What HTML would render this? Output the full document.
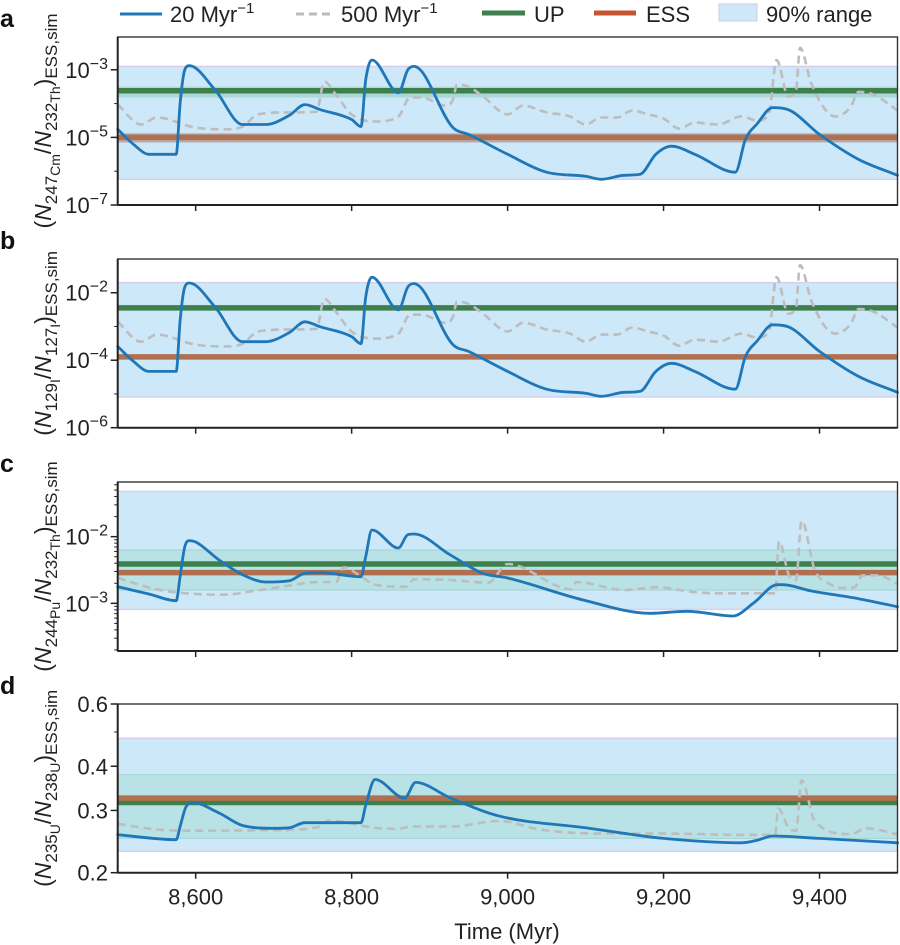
<!DOCTYPE html>
<html><head><meta charset="utf-8">
<style>
html,body{margin:0;padding:0;background:#fff;}
svg{display:block;font-family:"Liberation Sans",Arial,sans-serif;}
</style></head>
<body>
<svg id="chart" width="900" height="945" viewBox="0 0 900 945" xmlns="http://www.w3.org/2000/svg">
<g id="legend" font-size="22" fill="#222">
  <g><line x1="120" y1="14" x2="162" y2="14" stroke="#1f77b8" stroke-width="3"/><text x="170" y="22">20 Myr<tspan dy="-9" font-size="15">−1</tspan></text></g>
  <g><line x1="296" y1="14" x2="332" y2="14" stroke="#bbb" stroke-width="3" stroke-dasharray="8,5"/><text x="341" y="22">500 Myr<tspan dy="-9" font-size="15">−1</tspan></text></g>
  <g><line x1="482" y1="13" x2="525" y2="13" stroke="#3e7f4b" stroke-width="5"/><text x="534" y="22">UP</text></g>
  <g><line x1="594" y1="13" x2="636" y2="13" stroke="#c4552f" stroke-width="5"/><text x="646" y="22">ESS</text></g>
  <g><rect x="719" y="4" width="38" height="17" fill="#cde8f8" stroke="#d6d0ee" stroke-width="1.2"/><text x="766" y="22">90% range</text></g>
</g>
<g id="plots"></g>
</svg>
<script>
const NS="http://www.w3.org/2000/svg";
// ---- shared time axis ----
const xTicks=[8600,8800,9000,9200,9400];
const xTickLabels=["8,600","8,800","9,000","9,200","9,400"];
// ---- panel a: log10(N247Cm/N232Th) ----
const aBlueT=[8500,8520,8540,8575,8580,8586,8592,8625,8660,8690,8720,8740,8760,8800,8812,8818,8826,8860,8872,8880,8930,8950,9000,9050,9100,9120,9150,9170,9190,9210,9240,9292,9305,9320,9340,9360,9400,9450,9500];
const aBlue=[-4.76,-5.2,-5.5,-5.5,-4.0,-3.0,-2.88,-3.6,-4.62,-4.62,-4.35,-4.03,-4.18,-4.47,-4.68,-3.3,-2.71,-3.68,-3.0,-2.9,-4.71,-4.91,-5.5,-6.03,-6.15,-6.24,-6.12,-6.09,-5.5,-5.26,-5.5,-6.03,-5.06,-4.6,-4.12,-4.18,-4.91,-5.65,-6.12];
const aGrayT=[8500,8530,8550,8600,8640,8660,8680,8720,8755,8765,8780,8800,8830,8860,8875,8890,8920,8930,8935,8950,8970,9000,9020,9050,9080,9100,9120,9140,9160,9180,9200,9220,9240,9270,9300,9320,9335,9345,9360,9370,9375,9390,9420,9440,9450,9470,9500];
const aGray=[-4.03,-4.62,-4.41,-4.71,-4.76,-4.68,-4.32,-4.26,-4.24,-3.35,-3.74,-4.32,-4.53,-4.38,-3.82,-3.82,-4.06,-3.88,-3.44,-3.5,-3.82,-4.32,-4.06,-4.26,-4.38,-4.62,-4.41,-4.41,-4.2,-4.32,-4.44,-4.74,-4.56,-4.62,-4.38,-4.5,-4.32,-2.71,-3.79,-3.59,-2.35,-3.44,-4.38,-4.1,-3.65,-3.74,-4.2];
const aRange=[-2.9,-6.24], aUP=-3.62, aESS=-5.0, aUPband=[-3.5,-3.82], aESSband=[-4.88,-5.15];
// ---- panel b: log10(N129I/N127I) ----
const bBlue=[-3.59,-4.03,-4.33,-4.33,-2.83,-1.83,-1.71,-2.43,-3.45,-3.45,-3.18,-2.86,-3.01,-3.3,-3.51,-2.13,-1.54,-2.51,-1.83,-1.73,-3.54,-3.74,-4.33,-4.86,-4.98,-5.07,-4.95,-4.92,-4.33,-4.09,-4.33,-4.86,-3.89,-3.43,-2.95,-3.01,-3.74,-4.48,-4.95];
const bGray=[-2.86,-3.45,-3.24,-3.54,-3.59,-3.51,-3.15,-3.09,-3.07,-2.18,-2.57,-3.15,-3.36,-3.21,-2.65,-2.65,-2.89,-2.71,-2.27,-2.33,-2.65,-3.15,-2.89,-3.09,-3.21,-3.45,-3.24,-3.24,-3.03,-3.15,-3.27,-3.57,-3.39,-3.45,-3.21,-3.33,-3.15,-1.54,-2.62,-2.42,-1.18,-2.27,-3.21,-2.93,-2.48,-2.57,-3.03];
const bRange=[-1.7,-5.09], bUP=-2.45, bESS=-3.9;
// ---- panel c: log10(N244Pu/N232Th) ----
const cBlueT=[8500,8540,8575,8580,8586,8592,8600,8630,8660,8690,8720,8740,8760,8812,8818,8826,8860,8872,8880,8926,8968,9000,9097,9183,9230,9289,9315,9346,9353,9388,9450,9500];
const cBlue=[-2.75,-2.86,-2.96,-2.6,-2.15,-2.06,-2.08,-2.35,-2.57,-2.68,-2.66,-2.55,-2.54,-2.6,-2.3,-1.9,-2.17,-1.97,-1.96,-2.27,-2.55,-2.62,-2.95,-3.15,-3.12,-3.19,-3.0,-2.72,-2.72,-2.81,-2.93,-3.05];
const cGrayT=[8500,8550,8600,8640,8660,8700,8760,8780,8790,8810,8830,8870,8880,8926,8975,9000,9082,9088,9150,9190,9247,9298,9343,9348,9362,9370,9377,9394,9413,9432,9445,9455,9475,9500];
const cGray=[-2.62,-2.79,-2.86,-2.87,-2.84,-2.77,-2.68,-2.68,-2.46,-2.58,-2.72,-2.75,-2.64,-2.65,-2.69,-2.41,-2.79,-2.68,-2.8,-2.76,-2.84,-2.85,-2.85,-2.07,-2.61,-2.65,-1.76,-2.5,-2.71,-2.77,-2.76,-2.58,-2.58,-2.71];
const cRange=[-1.32,-3.09], cUP=-2.41, cESS=-2.54, cBand=[-2.2,-2.8];
// ---- panel d: N235U/N238U (log axis) ----
const dBlueT=[8500,8575,8580,8587,8595,8630,8660,8700,8720,8740,8812,8818,8830,8868,8882,8926,8990,9100,9200,9300,9320,9340,9400,9500];
const dBlue=[0.256,0.248,0.27,0.305,0.316,0.295,0.272,0.267,0.268,0.277,0.277,0.31,0.367,0.325,0.36,0.326,0.289,0.268,0.25,0.243,0.247,0.254,0.25,0.243];
const dGrayT=[8500,8550,8600,8700,8760,8770,8830,8860,8875,8926,8990,9041,9118,9200,9300,9343,9347,9362,9370,9377,9394,9440,9460,9500];
const dGray=[0.275,0.265,0.263,0.264,0.27,0.281,0.268,0.266,0.27,0.27,0.28,0.265,0.258,0.258,0.256,0.256,0.304,0.265,0.263,0.365,0.28,0.257,0.267,0.257];
const dRange=[0.48,0.23], dUP=0.316, dESS=0.325, dBand=[0.379,0.25];
const dTicks=[0.2,0.3,0.4,0.6], dTickLabels=["0.2","0.3","0.4","0.6"];

const X0=117.7, X1=897.5, T0=8500, T1=9500;
const xs=t=>X0+(t-T0)/(T1-T0)*(X1-X0);
const root=document.getElementById('plots');
function el(tag,attrs,parent){const e=document.createElementNS(NS,tag);for(const k in attrs)e.setAttribute(k,attrs[k]);(parent||root).appendChild(e);return e;}
// monotone cubic path through pixel points
function smoothPath(P){
  const n=P.length, d=[], m=[];
  for(let i=0;i<n-1;i++){const dx=P[i+1][0]-P[i][0];d.push(dx?(P[i+1][1]-P[i][1])/dx:0);}
  m[0]=d[0];m[n-1]=d[n-2];
  for(let i=1;i<n-1;i++){m[i]=(d[i-1]*d[i]<=0)?0:(d[i-1]+d[i])/2;}
  for(let i=0;i<n-1;i++){if(d[i]===0){m[i]=0;m[i+1]=0;continue;}const a=m[i]/d[i],b=m[i+1]/d[i],s=a*a+b*b;if(s>9){const t=3/Math.sqrt(s);m[i]=t*a*d[i];m[i+1]=t*b*d[i];}}
  let s='M'+P[0][0].toFixed(1)+','+P[0][1].toFixed(1);
  for(let i=0;i<n-1;i++){const h=(P[i+1][0]-P[i][0])/3;
    s+=' C'+(P[i][0]+h).toFixed(1)+','+(P[i][1]+m[i]*h).toFixed(1)+' '+(P[i+1][0]-h).toFixed(1)+','+(P[i+1][1]-m[i+1]*h).toFixed(1)+' '+P[i+1][0].toFixed(1)+','+P[i+1][1].toFixed(1);}
  return s;
}

function panel(cfg){
  const g=el('g',{});
  
  
  const ys=v=>cfg.bot-(cfg.f(v)-cfg.min)/(cfg.max-cfg.min)*(cfg.bot-cfg.top);
  const r=el('rect',{x:X0,y:ys(cfg.range[0]),width:X1-X0,height:ys(cfg.range[1])-ys(cfg.range[0]),fill:'#cde8f8'},g);
  
  
  [cfg.range[0],cfg.range[1]].forEach(v=>el('line',{x1:X0,x2:X1,y1:ys(v),y2:ys(v),stroke:'#d6d0ee','stroke-width':1.5},g));
  if(cfg.band){const b=el('rect',{x:X0,y:ys(cfg.band[0]),width:X1-X0,height:ys(cfg.band[1])-ys(cfg.band[0]),fill:'#b8e2e6'},g);
    
    
    [cfg.band[0],cfg.band[1]].forEach(v=>el('line',{x1:X0,x2:X1,y1:ys(v),y2:ys(v),stroke:'#a9d6d8','stroke-width':1.2},g));}
  if(cfg.upBand){el('rect',{x:X0,y:ys(cfg.upBand[0]),width:X1-X0,height:ys(cfg.upBand[1])-ys(cfg.upBand[0]),fill:'#a9d8d6'},g);}
  if(cfg.essBand){el('rect',{x:X0,y:ys(cfg.essBand[0]),width:X1-X0,height:ys(cfg.essBand[1])-ys(cfg.essBand[0]),fill:'#b8a8a8'},g);}
  const lines=[[cfg.ess,'#b0704f','ess-line'],[cfg.up,'#3e7f4b','up-line']];
  if(cfg.upFirst) lines.reverse();
  lines.forEach(([v,c,n])=>{const l=el('line',{x1:X0,x2:X1,y1:ys(v),y2:ys(v),stroke:c,'stroke-width':5.5},g);
    
    });
  const pts=(T,V)=>T.map((t,i)=>[xs(t),ys(V[i])]);
  const gl=el('path',{d:smoothPath(pts(cfg.grayT,cfg.gray)),fill:'none',stroke:'#bdbdbd','stroke-width':2.6,'stroke-dasharray':'8,5','stroke-linejoin':'round'},g);
  
  
  const bl=el('path',{d:smoothPath(pts(cfg.blueT,cfg.blue)),fill:'none',stroke:'#1f77b8','stroke-width':2.8,'stroke-linejoin':'round','stroke-linecap':'round'},g);
  
  
  const fr=el('rect',{x:X0,y:cfg.top,width:X1-X0,height:cfg.bot-cfg.top,fill:'none',stroke:'#333','stroke-width':1.4},g);
  
  
  el('line',{x1:X0,x2:X0,y1:cfg.top,y2:cfg.bot,stroke:'#222','stroke-width':2},g);
  el('line',{x1:X0,x2:X1,y1:cfg.bot,y2:cfg.bot,stroke:'#222','stroke-width':2},g);
  xTicks.forEach((t,i)=>{el('line',{x1:xs(t),x2:xs(t),y1:cfg.bot,y2:cfg.bot+6,stroke:'#222','stroke-width':1.5},g);
    if(cfg.xlabels){const tx=el('text',{x:xs(t),y:cfg.bot+32,'font-size':22,fill:'#222','text-anchor':'middle'},g);tx.textContent=xTickLabels[i];
      
      }});
  cfg.minor.forEach(v=>el('line',{x1:X0-3.5,x2:X0,y1:ys(v),y2:ys(v),stroke:'#222','stroke-width':1},g));
  cfg.ticks.forEach((v,i)=>{const y=ys(v);el('line',{x1:X0-7,x2:X0,y1:y,y2:y,stroke:'#222','stroke-width':1.5},g);
    const tx=el('text',{x:108,y:y+8,'font-size':22,fill:'#222','text-anchor':'end'},g);
    
    
    if(cfg.log){tx.innerHTML='10<tspan dy="-9" font-size="16">−'+(-v)+'</tspan>';}
    else tx.textContent=cfg.tickLabels[i];});
  const L=el('text',{x:0,y:cfg.top-10,'font-size':25,'font-weight':'bold',fill:'#111'},g);L.textContent=cfg.id;
  
  
  const cy=(cfg.top+cfg.bot)/2;
  const yt=el('text',{x:0,y:0,'font-size':23,fill:'#222','text-anchor':'middle',transform:'translate(51,'+cy+') rotate(-90)'},g);
  
  
  const s=cfg.title;
  yt.innerHTML='(<tspan font-style="italic">N</tspan><tspan font-size="17" dy="6">'+s[0]+'</tspan><tspan font-size="14" dy="3">'+s[1]+'</tspan><tspan dy="-9">/</tspan><tspan font-style="italic">N</tspan><tspan font-size="17" dy="6">'+s[2]+'</tspan><tspan font-size="14" dy="3">'+s[3]+'</tspan><tspan dy="-9">)</tspan><tspan font-size="17" dy="6">ESS,sim</tspan>';
}
const logMinor=(lo,hi)=>{const r=[];for(let d=Math.floor(lo);d<hi;d++)for(let k=2;k<10;k++){const v=d+Math.log10(k);if(v>lo&&v<hi)r.push(v);}return r;};
panel({id:'a',top:37,bot:205,min:-7,max:-2.03,f:v=>v,log:true,ticks:[-7,-5,-3],minor:[-6,-4],range:aRange,up:aUP,ess:aESS,upBand:aUPband,essBand:aESSband,blueT:aBlueT,blue:aBlue,grayT:aGrayT,gray:aGray,title:['247','Cm','232','Th']});
panel({id:'b',top:259,bot:427.7,min:-6,max:-1,f:v=>v,log:true,ticks:[-6,-4,-2],minor:[-5,-3],range:bRange,up:bUP,ess:bESS,blueT:aBlueT,blue:bBlue,grayT:aGrayT,gray:bGray,title:['129','I','127','I']});
panel({id:'c',top:482,bot:651,min:-3.715,max:-1.18,f:v=>v,log:true,ticks:[-3,-2],minor:logMinor(-3.715,-1.18),range:cRange,up:cUP,ess:cESS,band:cBand,blueT:cBlueT,blue:cBlue,grayT:cGrayT,gray:cGray,title:['244','Pu','232','Th']});
panel({id:'d',top:704,bot:872.7,min:Math.log10(0.2),max:Math.log10(0.6),f:v=>Math.log10(v),log:false,ticks:dTicks,tickLabels:dTickLabels,minor:[0.5],range:dRange,up:dUP,ess:dESS,band:dBand,upFirst:true,blueT:dBlueT,blue:dBlue,grayT:dGrayT,gray:dGray,xlabels:true,title:['235','U','238','U']});
const xt=el('text',{x:507,y:939,'font-size':22,fill:'#222','text-anchor':'middle'});
xt.textContent='Time (Myr)';


</script>
</body></html>
